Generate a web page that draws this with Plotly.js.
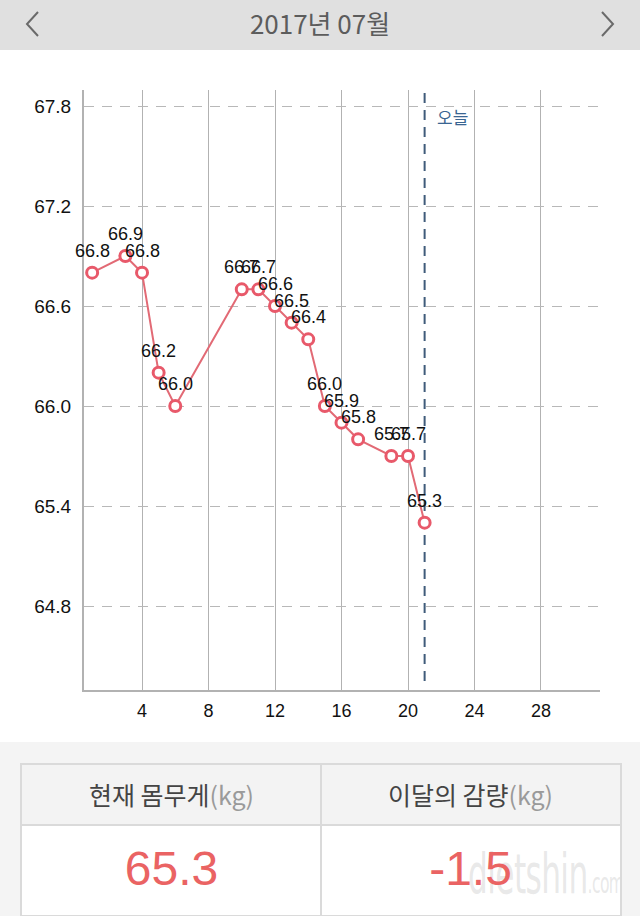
<!DOCTYPE html>
<html>
<head>
<meta charset="utf-8">
<script src="https://cdn.plot.ly/plotly-3.0.1.min.js"></script>
<style>
  html, body { margin:0; padding:0; width:640px; height:916px; overflow:hidden; background:#fff; }
  #chart { position:absolute; left:0; top:0; width:640px; height:916px; }
  #header { position:absolute; left:0; top:0; width:640px; height:50px; background:#e0e0e0; z-index:5; }
  #title { position:absolute; left:0; width:640px; top:7px; text-align:center; font-family:"Noto Sans CJK KR","Noto Sans",sans-serif; font-size:26px; color:#5c5c5c; line-height:32px; }
  .arrow { position:absolute; top:11px; }
  #bottom { position:absolute; left:0; top:742px; width:640px; height:174px; background:#f4f4f4; z-index:5; }
  #table { position:absolute; left:20px; top:21px; width:598px; height:150px; border:2px solid #dadada; background:#fff; overflow:hidden; }
  .hcell { position:absolute; top:0; height:59px; width:299px; background:#f3f3f3; border-bottom:2px solid #dadada; text-align:center; font-family:"Noto Sans CJK KR",sans-serif; font-size:25px; color:#444; line-height:58px; }
  .hcell span { color:#9a9a9a; }
  .vcell { position:absolute; top:61px; height:88px; width:299px; text-align:center; font-family:"Liberation Sans","Arial",sans-serif; font-size:48px; color:#ea6363; line-height:86px; z-index:2; }
  #divider { position:absolute; left:298px; top:0; width:2px; height:150px; background:#dadada; z-index:3; }
  #wm { position:absolute; left:446px; top:76px; font-family:"Liberation Sans Narrow","DejaVu Sans Condensed",sans-serif; font-size:56px; color:rgba(205,205,205,0.45); letter-spacing:-1px; transform:scaleX(0.62); transform-origin:left; white-space:nowrap; z-index:1; }
  #wm small { font-size:28px; }
</style>
</head>
<body>
<div id="chart"></div>
<div id="header">
  <svg class="arrow" style="left:24px" width="16" height="28"><polyline points="14,1 3,13 14,25" fill="none" stroke="#6a6a6a" stroke-width="2"/></svg>
  <div id="title">2017년 07월</div>
  <svg class="arrow" style="left:600px" width="16" height="28"><polyline points="2,1 13,13 2,25" fill="none" stroke="#6a6a6a" stroke-width="2"/></svg>
</div>
<div id="bottom">
  <div id="table">
    <div class="hcell" style="left:0">현재 몸무게<span>(kg)</span></div>
    <div class="hcell" style="left:299px">이달의 감량<span>(kg)</span></div>
    <div id="divider"></div>
    <div class="vcell" style="left:0">65.3</div>
    <div class="vcell" style="left:299px">-1.5</div>
    <div id="wm">dietshin<small>.com</small></div>
  </div>
</div>
<script>
// ---- data ----
const days    = [1, 3, 4, 5, 6, 10, 11, 12, 13, 14, 15, 16, 17, 19, 20, 21];
const weights = [66.8, 66.9, 66.8, 66.2, 66.0, 66.7, 66.7, 66.6, 66.5, 66.4, 66.0, 65.9, 65.8, 65.7, 65.7, 65.3];
const xTicks  = [4, 8, 12, 16, 20, 24, 28];
const yTicks  = [64.8, 65.4, 66.0, 66.6, 67.2, 67.8];
const todayDay = 21;
const todayLabel = '오늘';

const labels = weights.map(v => v.toFixed(1));
const tickFont = {family: 'Liberation Sans, Arial, sans-serif', size: 19, color: '#111'};

const trace = {
  x: days, y: weights, type: 'scatter', mode: 'lines+markers',
  line: {color: '#e26a75', width: 2},
  marker: {size: 11, color: '#ffffff', line: {color: '#e8596a', width: 3}},
  cliponaxis: false, hoverinfo: 'none'
};

const valueLabels = days.map((d, i) => ({
  x: d, y: weights[i], xref: 'x', yref: 'y', text: labels[i], showarrow: false,
  xanchor: 'center', yanchor: 'middle', yshift: 22,
  font: {family: 'Liberation Sans, Arial, sans-serif', size: 18, color: '#111'}
}));

const layout = {
  width: 640, height: 916,
  margin: {l: 84, r: 40, t: 90, b: 226},
  paper_bgcolor: '#ffffff', plot_bgcolor: '#ffffff',
  showlegend: false,
  xaxis: {
    range: [0.51, 31.55], tickvals: xTicks, ticktext: xTicks.map(String),
    showgrid: true, gridcolor: '#b2b2b2', gridwidth: 1,
    showline: true, linecolor: '#b2b2b2', linewidth: 2, zeroline: false,
    ticks: 'outside', ticklen: 3, tickcolor: 'rgba(0,0,0,0)',
    tickfont: {family: 'Liberation Sans, Arial, sans-serif', size: 18, color: '#111'},
    fixedrange: true
  },
  yaxis: {
    range: [64.296, 67.896], tickvals: yTicks, ticktext: yTicks.map(v => v.toFixed(1)),
    showgrid: true, gridcolor: '#b8b8b8', gridwidth: 1, griddash: '10px,8px',
    showline: true, linecolor: '#b2b2b2', linewidth: 2, zeroline: false,
    ticks: 'outside', ticklen: 7, tickcolor: 'rgba(0,0,0,0)',
    tickfont: tickFont,
    fixedrange: true
  },
  shapes: [{
    type: 'line', xref: 'x', yref: 'paper', x0: todayDay, x1: todayDay, y0: 0.015, y1: 1,
    line: {color: '#3f5b7a', width: 2, dash: '10px,7px'}, layer: 'below'
  }],
  annotations: valueLabels.concat([{
    x: todayDay, xref: 'x', y: 1, yref: 'paper', text: todayLabel, showarrow: false,
    xanchor: 'left', yanchor: 'middle', xshift: 10, yshift: -26,
    font: {family: 'Noto Sans CJK KR, sans-serif', size: 17, color: '#3a6592'}
  }])
};

Plotly.newPlot('chart', [trace], layout, {displayModeBar: false, staticPlot: true});
</script>
</body>
</html>
